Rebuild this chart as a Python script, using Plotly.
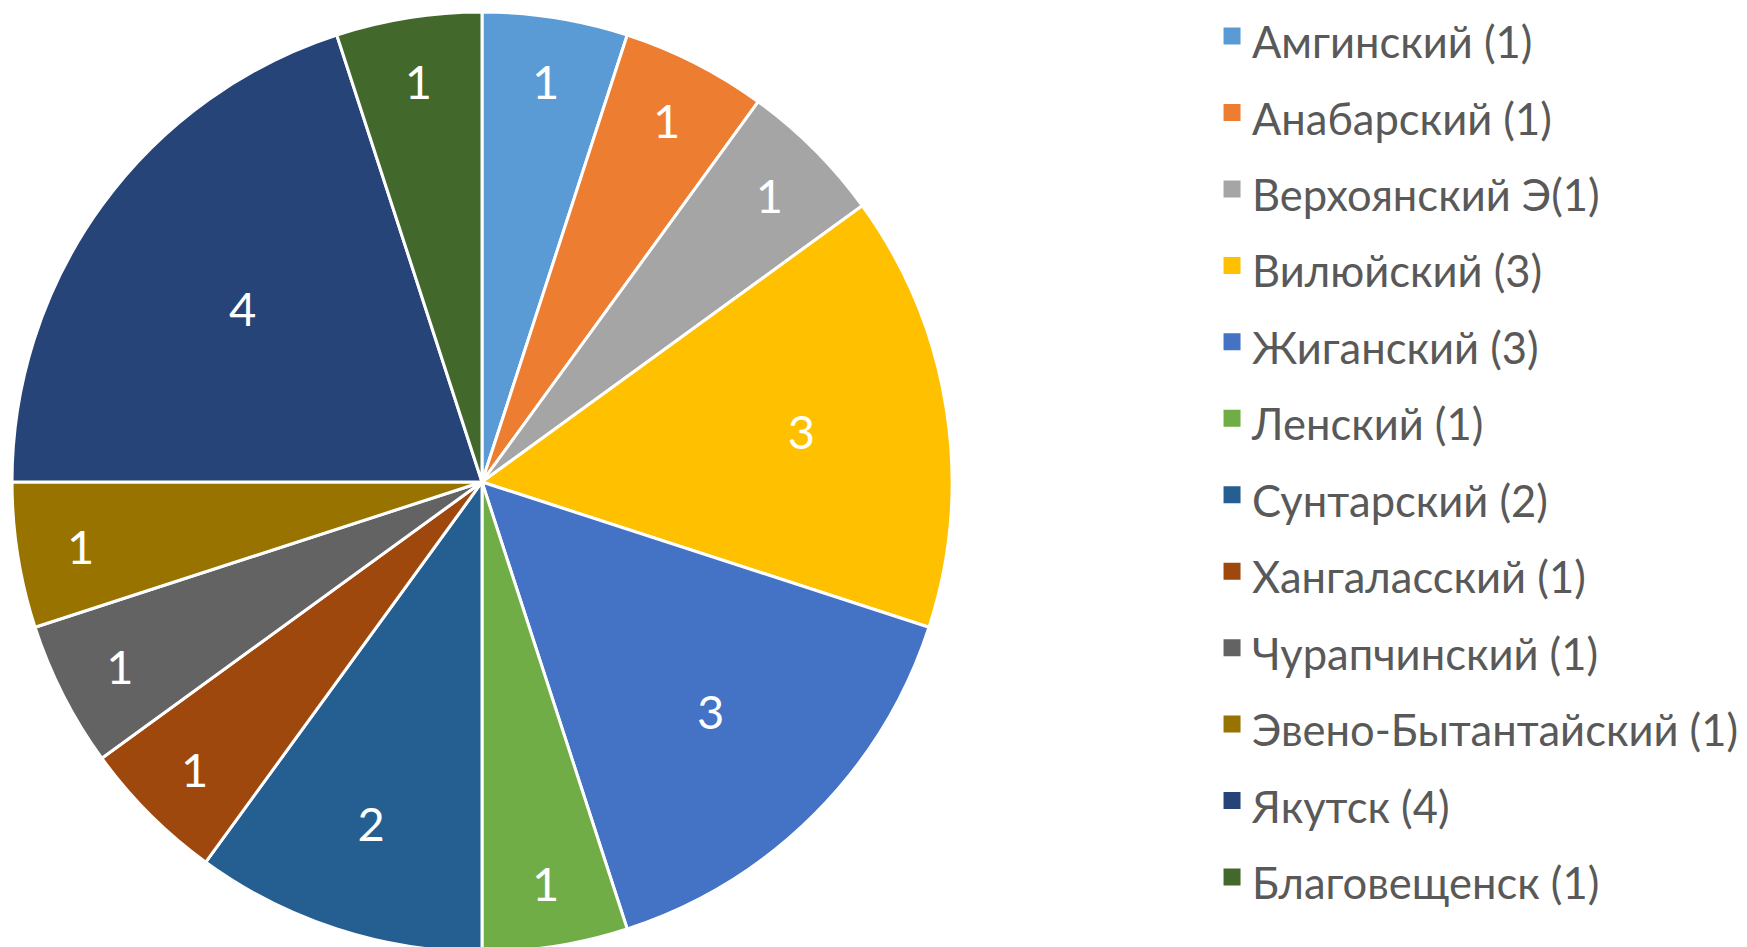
import plotly.graph_objects as go

legend_labels = ["Амгинский (1)", "Анабарский (1)", "Верхоянский Э(1)", "Вилюйский (3)", "Жиганский (3)",
                 "Ленский (1)", "Сунтарский (2)", "Хангаласский (1)", "Чурапчинский (1)",
                 "Эвено-Бытантайский (1)", "Якутск (4)", "Благовещенск (1)"]
counts = [1, 1, 1, 3, 3, 1, 2, 1, 1, 1, 4, 1]
colors = ["#5B9BD5", "#ED7D31", "#A5A5A5", "#FFC000", "#4472C4", "#70AD47",
          "#255E91", "#9E480E", "#636363", "#997300", "#264478", "#43682B"]

labels_html = ["<span style='font-size:43.5px'>%s</span>" % t for t in legend_labels]

pie_domain = dict(x=[0.00229, 0.54036], y=[0.0032, 0.9958])

# legend carrier (drawn first, hidden under the main pie's centre)
legend_pie = go.Pie(
    labels=labels_html,
    values=counts,
    sort=False,
    direction="clockwise",
    marker=dict(colors=colors, line=dict(color=colors, width=5)),
    textinfo="none",
    hoverinfo="skip",
    domain=dict(x=[0.2709, 0.2717], y=[0.4990, 0.5000]),
    showlegend=True,
)

main_pie = go.Pie(
    labels=labels_html,
    values=counts,
    sort=False,
    direction="clockwise",
    rotation=0,
    marker=dict(colors=colors, line=dict(color="white", width=3)),
    textinfo="value",
    textposition="inside",
    insidetextorientation="horizontal",
    textfont=dict(family="Lato", size=47, color="white"),
    domain=pie_domain,
    hoverinfo="label+value",
    showlegend=False,
)

fig = go.Figure([legend_pie, main_pie])

fig.update_layout(
    width=1747, height=947,
    margin=dict(l=0, r=0, t=0, b=0, autoexpand=False),
    paper_bgcolor="white",
    plot_bgcolor="white",
    showlegend=True,
    legend=dict(
        x=0.6892, y=1.016, xanchor="left", yanchor="top",
        font=dict(family="Lato", size=56.5, color="#595959"),
        bgcolor="rgba(0,0,0,0)",
        traceorder="normal",
        maxheight=1200,
    ),
)

fig.write_html("out.html")
